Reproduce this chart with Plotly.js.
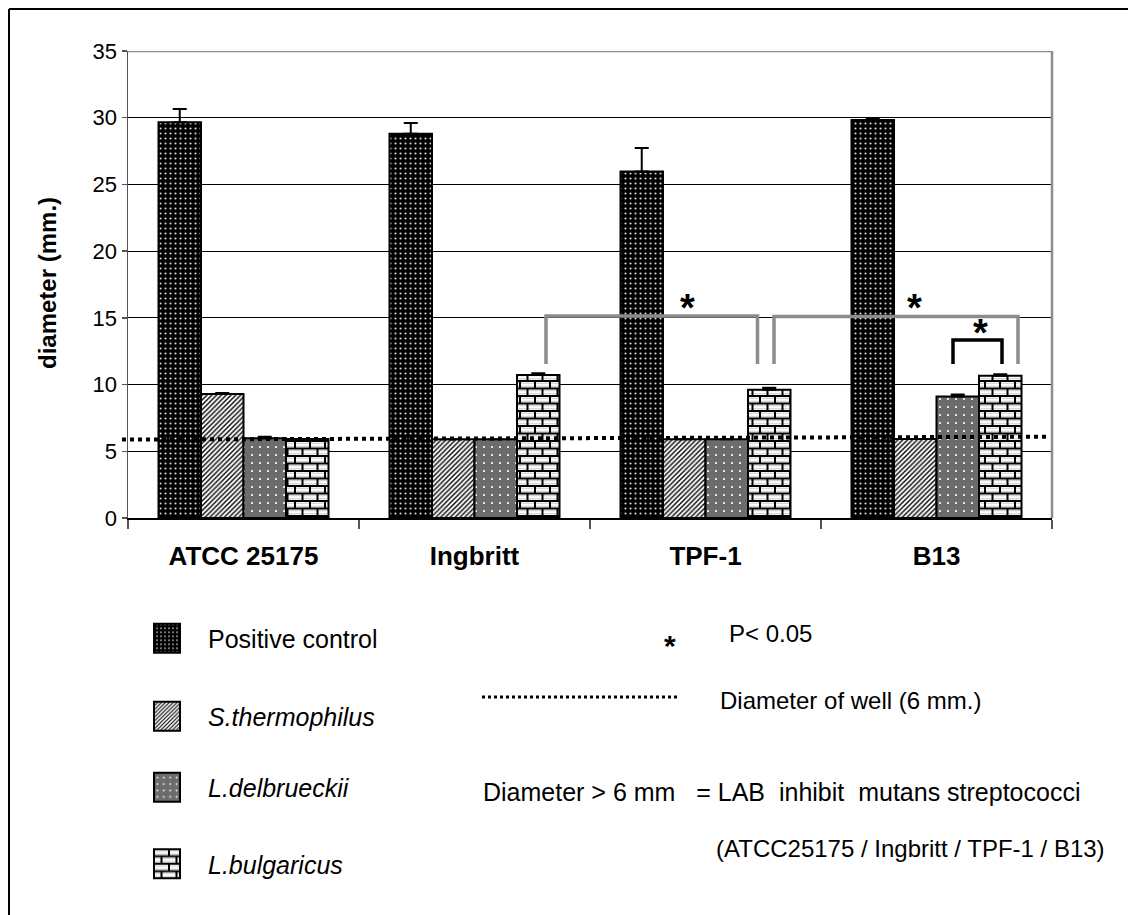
<!DOCTYPE html>
<html><head><meta charset="utf-8">
<script src="https://cdn.plot.ly/plotly-3.0.1.min.js"></script>
<style>html,body{margin:0;padding:0;background:#fff}#chart{width:1128px;height:915px}</style>
</head><body><div id="chart"></div>
<script>
// ---- data ----
const categories = ['ATCC 25175', 'Ingbritt', 'TPF-1', 'B13'];
const seriesNames = ['Positive control', '<i>S.thermophilus</i>', '<i>L.delbrueckii</i>', '<i>L.bulgaricus</i>'];
const positiveControl = [29.66, 28.8, 25.96, 29.83];
const positiveControlErr = [1.0, 0.8, 1.77, 0.1];
const sThermophilus = [9.3, 5.9, 5.9, 5.92];
const sThermophilusErr = [0.06, 0, 0, 0];
const lDelbrueckii = [5.97, 5.9, 5.9, 9.1];
const lDelbrueckiiErr = [0.12, 0, 0, 0.15];
const lBulgaricus = [5.93, 10.72, 9.62, 10.67];
const lBulgaricusErr = [0, 0.12, 0.15, 0.1];
const wellLine = [5.88, 6.09];          // dotted "diameter of well" line (left end, right end)
const yTickVals = [0, 5, 10, 15, 20, 25, 30, 35];
const noteTexts = ['P< 0.05', 'Diameter of well (6 mm.)',
  'Diameter > 6 mm\u00a0\u00a0 = LAB\u00a0 inhibit\u00a0 mutans streptococci',
  '(ATCC25175 / Ingbritt / TPF-1 / B13)'];

const FONT = 'Arial, "Liberation Sans", sans-serif';
const L = 128, R = 1052, T = 51, B = 518;
const px = v => (v - L) / (R - L);
const py = v => (B - v) / (B - T);

function barTrace(i, y, err, pattern, legendId) {
  return {
    type: 'bar', name: seriesNames[i], x: categories, y: y,
    error_y: {type: 'data', symmetric: false, array: err, arrayminus: err.map(() => 0),
      color: '#000', thickness: 2, width: 7},
    marker: {color: pattern.bgcolor, line: {color: '#000', width: 2}, pattern: pattern},
    legend: legendId, hoverinfo: 'skip'
  };
}

const data = [
  barTrace(0, positiveControl, positiveControlErr,
    {shape: '.', bgcolor: '#000', fgcolor: '#dcdcdc', size: 5, solidity: 0.14}, 'legend'),
  barTrace(1, sThermophilus, sThermophilusErr,
    {shape: '/', bgcolor: '#fff', fgcolor: '#000', size: 3.4, solidity: 0.4}, 'legend2'),
  barTrace(2, lDelbrueckii, lDelbrueckiiErr,
    {shape: '.', bgcolor: '#6c6c6c', fgcolor: '#fff', size: 8, solidity: 0.06}, 'legend3'),
  barTrace(3, lBulgaricus, lBulgaricusErr,
    {shape: '+', bgcolor: '#fff', fgcolor: '#000', size: 8, solidity: 0.3}, 'legend4')
];

function legendDef(cy) {
  return {x: px(126), xanchor: 'left', y: py(cy), yanchor: 'middle', itemwidth: 72,
    font: {family: FONT, size: 25, color: '#000'}, bgcolor: 'rgba(0,0,0,0)', borderwidth: 0};
}

const gray = '#8c8c8c';
const shapes = [
  {type: 'line', xref: 'paper', yref: 'y', x0: 0, x1: 1, y0: 35, y1: 35, line: {color: gray, width: 2.5}},
  {type: 'line', xref: 'paper', yref: 'y', x0: 1, x1: 1, y0: 0, y1: 35, line: {color: gray, width: 2.5}},
  {type: 'line', xref: 'paper', yref: 'paper', x0: px(9), x1: px(9), y0: py(9), y1: py(930), line: {color: '#000', width: 2}},
  {type: 'line', xref: 'paper', yref: 'paper', x0: px(9), x1: px(1140), y0: py(9), y1: py(9), line: {color: '#000', width: 2}},
  {type: 'line', xref: 'paper', yref: 'y', x0: px(122), x1: px(1047), y0: wellLine[0], y1: wellLine[1],
    line: {color: '#000', width: 4, dash: 'dot'}},
  {type: 'path', xref: 'paper', yref: 'y', line: {color: gray, width: 3.5},
    path: `M${px(546)},11.54 L${px(546)},15.14 L${px(757.5)},15.14 L${px(757.5)},11.54`},
  {type: 'path', xref: 'paper', yref: 'y', line: {color: gray, width: 3.5},
    path: `M${px(774)},11.54 L${px(774)},15.1 L${px(1018)},15.1 L${px(1018)},11.54`},
  {type: 'path', xref: 'paper', yref: 'y', line: {color: '#000', width: 3.5},
    path: `M${px(953)},11.54 L${px(953)},13.34 L${px(1002)},13.34 L${px(1002)},11.54`},
  {type: 'line', xref: 'paper', yref: 'paper', x0: px(482), x1: px(678), y0: py(697), y1: py(697),
    line: {color: '#000', width: 3, dash: 'dot'}}
];

function star(x, y, size) {
  return {xref: 'paper', yref: 'paper', x: px(x), y: py(y), text: '*', showarrow: false,
    xanchor: 'center', yanchor: 'middle', yshift: -0.2 * size,
    font: {family: FONT, size: size, color: '#000', weight: 'bold'}};
}
function note(t, x, y, size) {
  return {xref: 'paper', yref: 'paper', x: px(x), y: py(y), text: t, showarrow: false,
    xanchor: 'left', yanchor: 'middle', font: {family: FONT, size: size, color: '#000'}};
}

const annotations = [
  {xref: 'paper', yref: 'paper', x: px(47), y: py(283), text: 'diameter (mm.)', textangle: -90,
    showarrow: false, xanchor: 'center', yanchor: 'middle',
    font: {family: FONT, size: 24, color: '#000', weight: 'bold'}},
  star(687, 300, 38), star(914, 300.7, 38), star(980, 325, 38),
  star(670, 639, 30),
  note(noteTexts[0], 727, 633, 24),
  note(noteTexts[1], 718, 700, 24),
  note(noteTexts[2], 481, 792, 25),
  note(noteTexts[3], 714, 848, 24)
];

const layout = {
  width: 1128, height: 915,
  margin: {l: L, r: 1128 - R, t: T, b: 915 - B},
  paper_bgcolor: '#fff', plot_bgcolor: '#fff',
  barmode: 'group', bargap: 0.264, bargroupgap: 0,
  font: {family: FONT, color: '#000'},
  xaxis: {type: 'category', tickson: 'boundaries', ticks: 'outside', ticklen: 9, tickwidth: 1.5,
    tickcolor: '#555', showline: true, linecolor: '#000', linewidth: 2, showgrid: false, zeroline: false,
    ticklabelstandoff: 14,
    tickfont: {family: FONT, size: 26, color: '#000', weight: 'bold'}, fixedrange: true},
  yaxis: {range: [0, 35], tickmode: 'array', tickvals: yTickVals, ticks: 'outside', ticklen: 5,
    tickwidth: 1.5, tickcolor: '#555', showline: true, linecolor: '#555', linewidth: 1.5,
    showgrid: true, gridcolor: '#000', gridwidth: 1, zeroline: false,
    tickfont: {family: FONT, size: 22, color: '#000'}, fixedrange: true},
  showlegend: true,
  legend: legendDef(638.5), legend2: legendDef(716.5), legend3: legendDef(787.5), legend4: legendDef(864),
  shapes: shapes, annotations: annotations
};

const gd = document.getElementById('chart');
function applyStyling() {
  const NS = 'http://www.w3.org/2000/svg';
  if (!document.getElementById('brickpat')) {
    const defs = gd.querySelector('svg.main-svg defs');
    const pat = document.createElementNS(NS, 'pattern');
    pat.setAttribute('id', 'brickpat');
    pat.setAttribute('patternUnits', 'userSpaceOnUse');
    pat.setAttribute('width', '15'); pat.setAttribute('height', '15');
    pat.innerHTML =
      '<rect x="0" y="0" width="15" height="15" fill="#fff"/>' +
      '<path d="M0,2.2H15M0,5.3H15M0,9.7H15M0,12.8H15" stroke="#c8c8c8" stroke-width="1" fill="none"/>' +
      '<path d="M0,0H15M0,7.5H15M0,15H15" stroke="#000" stroke-width="2" fill="none"/>' +
      '<path d="M2,0V7.5M9.5,7.5V15" stroke="#000" stroke-width="2" fill="none"/>';
    defs.appendChild(pat);
  }
  const traces = gd.querySelectorAll('.barlayer .trace.bars');
  if (traces[3]) traces[3].querySelectorAll('path').forEach(p => { p.style.fill = 'url(#brickpat)'; });
  gd.querySelectorAll('.legendpoints path').forEach(p => {
    p.setAttribute('d', 'M13,14.5H-13V-14.5H13Z');
    let node = p, idx = -1;
    while (node && node !== gd) {
      const d = node.__data__;
      if (d && d[0] && d[0].trace) { idx = d[0].trace.index; break; }
      node = node.parentNode;
    }
    const txt = p.closest('g.traces') ? p.closest('g.traces').textContent : '';
    if (idx === 3 || txt.indexOf('bulgaricus') >= 0) {
      p.style.setProperty('fill', 'url(#brickpat)', 'important');
    }
  });
}
Plotly.newPlot(gd, data, layout, {staticPlot: true, displayModeBar: false}).then(() => {
  applyStyling();
  setTimeout(applyStyling, 50);
});
</script>
</body></html>
